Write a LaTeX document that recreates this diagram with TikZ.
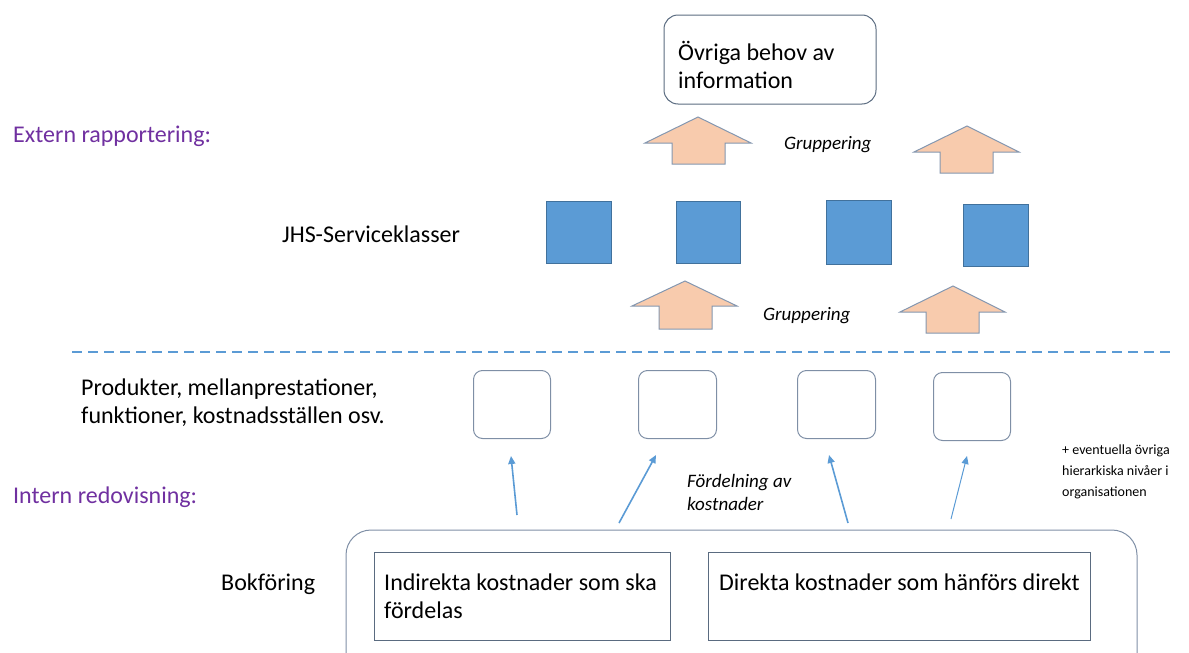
\documentclass[tikz,border=0pt]{standalone}
\usepackage{fontspec}
\setmainfont{Carlito}
\usetikzlibrary{arrows.meta}
\definecolor{purp}{HTML}{7030A0}
\definecolor{peach}{HTML}{F8CBAD}
\definecolor{arrbord}{HTML}{8497B0}
\definecolor{sqfill}{HTML}{5B9BD5}
\definecolor{sqbord}{HTML}{41719C}
\definecolor{boxbord}{HTML}{7F8FA6}
\definecolor{darkbord}{HTML}{5A6B80}
\definecolor{lineblue}{HTML}{5B9BD5}
\tikzset{
  txt/.style={anchor=base west, inner sep=0pt, align=left, text=black},
  bigtxt/.style={txt, font=\fontsize{24}{28}\selectfont},
  midtxt/.style={txt, font=\fontsize{24}{27.5}\selectfont},
  head/.style={txt, text=purp, font=\fontsize{24}{28}\selectfont},
  itx/.style={txt, font=\fontsize{19}{23}\selectfont\itshape},
  smalltxt/.style={txt, font=\fontsize{14}{21}\selectfont},
  blockarrow/.style={fill=peach, draw=arrbord, line width=1pt, line join=miter},
  square/.style={fill=sqfill, draw=sqbord, line width=1pt},
  pbox/.style={draw=boxbord, line width=1pt, rounded corners=9pt},
  inbox/.style={draw=darkbord, line width=0.9pt},
  conn/.style={draw=lineblue, line width=1.6pt, -{Triangle[width=7pt,length=8pt]}},
}
\begin{document}
\begin{tikzpicture}[x=1pt,y=-1pt]
\useasboundingbox (0,0) rectangle (1189,653);

% top box
\draw[draw=darkbord, line width=1pt, rounded corners=14pt] (664,15) rectangle (876,104);
\node[bigtxt] (info) at (678,88) {Övriga behov av\\information};

\node[head] (extern) at (13,142) {Extern rapportering:};

% upper block arrows
\draw[blockarrow] (645,143) -- (698,117) -- (751,143) -- (725,143) -- (725,164) -- (672,164) -- (672,143) -- cycle;
\draw[blockarrow] (914,152) -- (967,126) -- (1019,152) -- (993,152) -- (993,173) -- (940,173) -- (940,152) -- cycle;
\node[itx] (grp1) at (784,149) {Gruppering};

% squares
\draw[square] (546,201) rectangle (611,263);
\draw[square] (676,201) rectangle (740,263);
\draw[square] (826,200) rectangle (891,264);
\draw[square] (963,204) rectangle (1028,266);
\node[midtxt] (jhs) at (282,242) {JHS-Serviceklasser};

% lower block arrows
\draw[blockarrow] (632,306) -- (685,281) -- (737,306) -- (712,306) -- (712,329) -- (659,329) -- (659,306) -- cycle;
\draw[blockarrow] (900,312) -- (953,286) -- (1005,312) -- (979,312) -- (979,333) -- (926,333) -- (926,312) -- cycle;
\node[itx] (grp2) at (763,320) {Gruppering};

% dashed divider
\draw[lineblue, line width=2.8pt, dash pattern=on 10pt off 6pt] (72,352) -- (1170,352);

% product level
\node[midtxt] (prod) at (81,423) {Produkter, mellanprestationer,\\funktioner, kostnadsställen osv.};
\node[pbox, minimum width=77pt, minimum height=68pt, anchor=north west] (p1) at (473,370) {};
\node[pbox, minimum width=78pt, minimum height=68pt, anchor=north west] (p2) at (638,370) {};
\node[pbox, minimum width=78pt, minimum height=68pt, anchor=north west] (p3) at (797,370) {};
\node[pbox, minimum width=77pt, minimum height=68pt, anchor=north west] (p4) at (933,372) {};

\node[smalltxt] (extra) at (1062,496) {+ eventuella övriga\\hierarkiska nivåer i\\organisationen};

\node[head] (intern) at (13,503) {Intern redovisning:};

% connectors
\coordinate (t1) at (517,515); \coordinate (h1) at (511,456);
\coordinate (t2) at (619,523); \coordinate (h2) at (656,455);
\coordinate (t3) at (848,523); \coordinate (h3) at (829,455);
\coordinate (t4) at (951,519); \coordinate (h4) at (967,456);
\draw[conn] (t1) -- (h1);
\draw[conn] (t2) -- (h2);
\draw[conn] (t3) -- (h3);
\draw[conn, line width=1pt] (t4) -- (h4);

\node[itx] (ford) at (687,510) {Fördelning av\\kostnader};

% bookkeeping
\node[midtxt] (bok) at (221,590) {Bokföring};
\draw[draw=boxbord, line width=1pt, rounded corners=25pt] (346,680) -- (346,530) -- (1137,530) -- (1137,680);
\node[inbox, minimum width=296pt, minimum height=88pt, anchor=north west] (ind) at (374,552) {};
\node[inbox, minimum width=382pt, minimum height=88pt, anchor=north west] (dir) at (708,552) {};
\node[midtxt] (indt) at (384,618) {Indirekta kostnader som ska\\fördelas};
\node[midtxt] (dirt) at (719,590) {Direkta kostnader som hänförs direkt};

\end{tikzpicture}
\end{document}
